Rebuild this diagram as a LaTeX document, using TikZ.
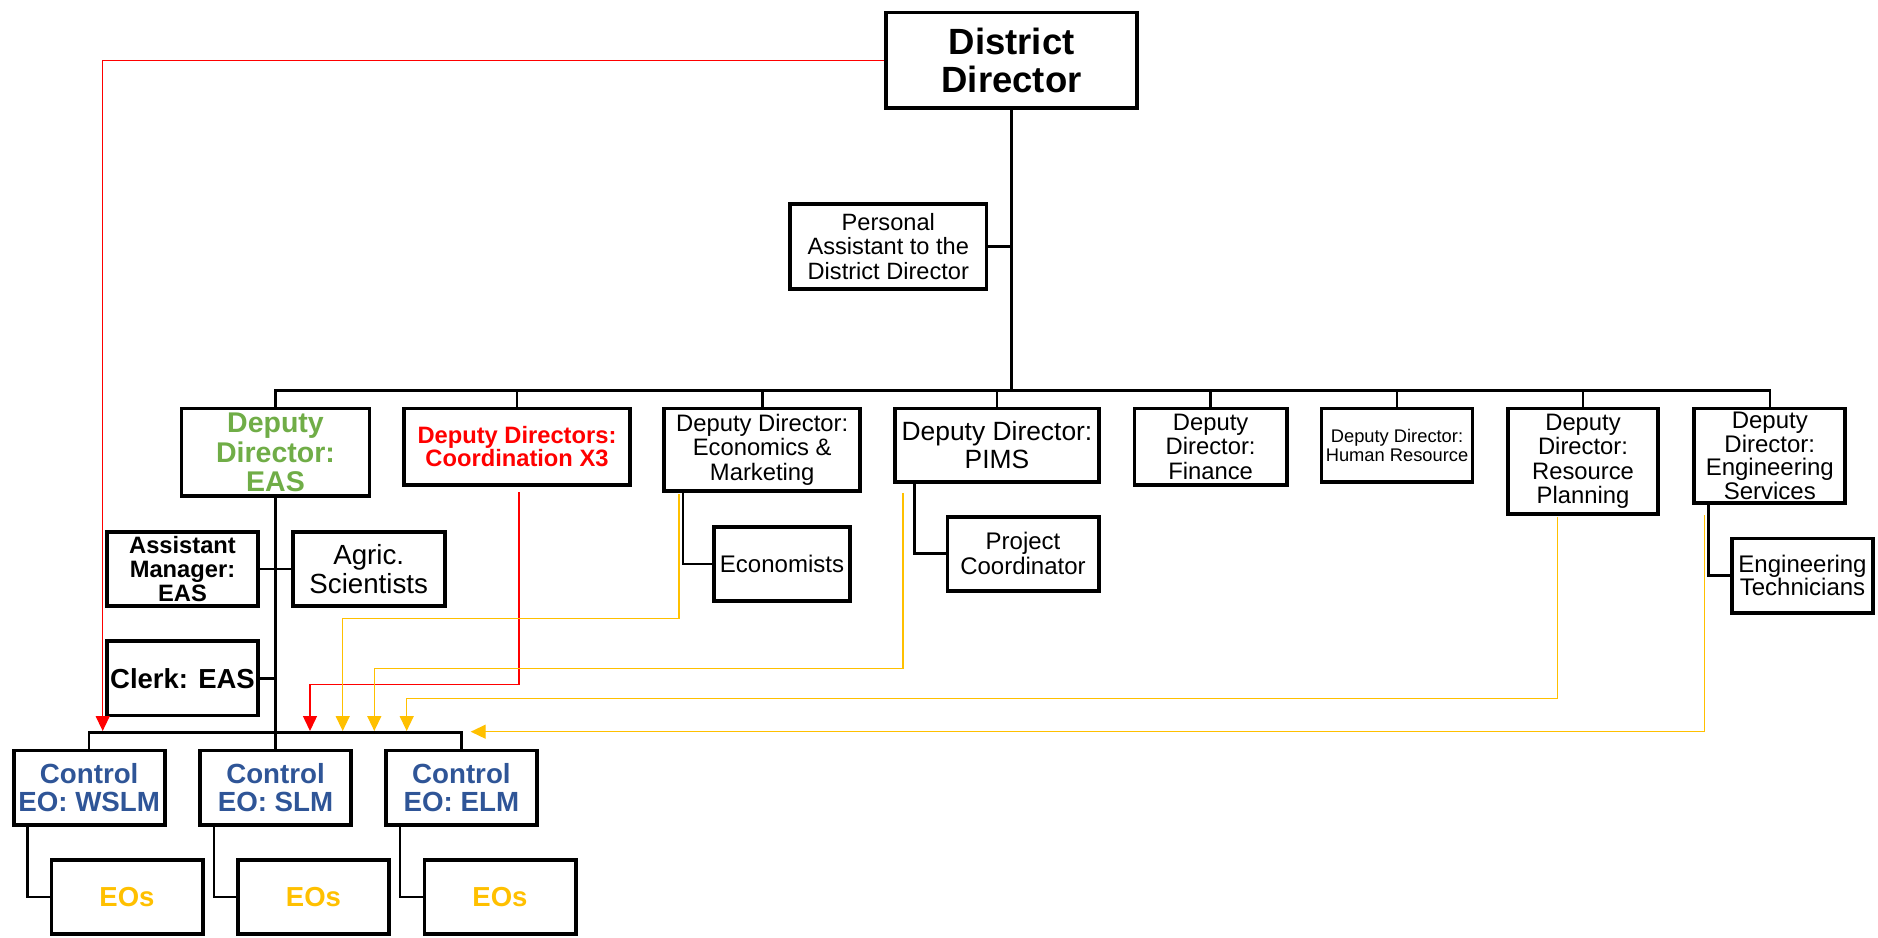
\documentclass[tikz,border=0pt]{standalone}
\usepackage{fontspec}
\setmainfont{Liberation Sans}
\usetikzlibrary{arrows.meta}
\definecolor{easgreen}{HTML}{70AD47}
\definecolor{eoblue}{HTML}{2F5597}
\definecolor{eoyellow}{HTML}{FFC000}
\newcommand{\fs}[2]{\fontsize{#1}{#2}\selectfont}

\begin{document}
\begin{tikzpicture}[
  x=1pt, y=-1pt,
  every node/.style={draw, line width=3.8pt, align=center, inner sep=0pt},
  dep/.style={anchor=north, font=\fs{23.8}{24.5}},
  sub/.style={minimum width=151.2pt, minimum height=74.2pt, font=\fs{24}{25}},
  ctrl/.style={sub, text=eoblue, font=\bfseries\fs{27.7}{28.8}},
  eos/.style={sub, text=eoyellow, font=\bfseries\fs{27.5}{29}},
  link/.style={line width=2.6pt},
  redarr/.style={draw=red, line width=1.4pt, -{Triangle[width=14pt,length=15pt]}},
  yelarr/.style={draw=eoyellow, line width=1.4pt, -{Triangle[width=14pt,length=15pt]}}
]
  \useasboundingbox (0,0) rectangle (1878,937);

  \node[minimum width=250.9pt, minimum height=95.5pt, font=\bfseries\fs{36.5}{38}] (dd) at (1011.6,60.3) {District\\Director};
  \node[minimum width=196.2pt, minimum height=84.6pt, font=\fs{23.6}{24.7}] (pa) at (888.3,246.5) {Personal\\Assistant to the\\District Director};

  \node[dep, minimum width=187.9pt, minimum height=87.8pt, text=easgreen, font=\bfseries\fs{28.5}{29.7}] (eas) at (275.5,406.6) {Deputy\\Director:\\EAS};
  \node[dep, minimum width=226pt, minimum height=76.2pt, text=red, font=\bfseries\fs{23.7}{23.5}] (coord) at (517,406.6) {Deputy Directors:\\Coordination X3};
  \node[dep, minimum width=195.8pt, minimum height=82.6pt] (econ) at (762.2,406.6) {Deputy Director:\\Economics \&\\Marketing};
  \node[dep, minimum width=204.2pt, minimum height=73.2pt, font=\fs{26.4}{27.7}] (pims) at (997,406.6) {Deputy Director:\\PIMS};
  \node[dep, minimum width=152.1pt, minimum height=76.2pt] (fin) at (1210.6,406.6) {Deputy\\Director:\\Finance};
  \node[dep, minimum width=150.9pt, minimum height=73.6pt, font=\fs{18.3}{19.5}] (hr) at (1397,406.6) {Deputy Director:\\Human Resource};
  \node[dep, minimum width=150.6pt, minimum height=105.2pt] (rp) at (1583,406.6) {Deputy\\Director:\\Resource\\Planning};
  \node[dep, minimum width=151pt, minimum height=94.6pt, font=\fs{24}{23.5}] (es) at (1769.8,406.6) {Deputy\\Director:\\Engineering\\Services};

  \node[sub, font=\bfseries\fs{23.7}{24}] (asst) at (182.5,569) {Assistant\\Manager:\\EAS};
  \node[sub, minimum width=152.2pt, font=\fs{27.7}{29}] (agric) at (368.7,569) {Agric.\\Scientists};
  \node[sub, font=\bfseries\fs{27.5}{29}] (clerk) at (182.5,678.3) {Clerk: EAS};
  \node[sub, minimum width=136.2pt] (econs) at (782,563.9) {Economists};
  \node[sub] (proj) at (1023,553.7) {Project\\Coordinator};
  \node[sub, minimum width=141.2pt, font=\fs{24}{23.5}] (tech) at (1802.5,575.5) {Engineering\\Technicians};

  \node[ctrl] (wslm) at (89.2,787.5) {Control\\EO: WSLM};
  \node[ctrl] (slm) at (275.5,787.5) {Control\\EO: SLM};
  \node[ctrl] (elm) at (461.4,787.5) {Control\\EO: ELM};
  \node[eos] (eos1) at (127,896.8) {EOs};
  \node[eos] (eos2) at (313.5,896.8) {EOs};
  \node[eos] (eos3) at (500,896.8) {EOs};

  \coordinate (bus) at (0,390.7);
  \coordinate (lbus) at (0,732.5);
  \draw[link] (dd.south) -- (dd.south |- bus);
  \draw[link] (eas.north) -- (eas.north |- bus) -- (es.north |- bus) -- (es.north);
  \foreach \n in {coord,econ,pims,fin,hr,rp}
    \draw[link] (\n.north) -- (\n.north |- bus);
  \draw[link] (pa.east) -- (pa.east -| dd.south);
  \draw[link] (eas.south) -- (slm.north);
  \draw[link] (asst.east) -- (agric.west);
  \draw[link] (clerk.east) -- (clerk.east -| eas.south);
  \draw[link, line width=2.4pt] (wslm.north) -- (wslm.north |- lbus) -- (elm.north |- lbus) -- (elm.north);
  \foreach \c/\e in {wslm/eos1,slm/eos2,elm/eos3}
    \draw[link] ([xshift=16pt]\c.south west) |- (\e.west);
  \draw[link] ([xshift=20.5pt]econ.south west) |- (econs.west);
  \draw[link] ([xshift=21.5pt]pims.south west) |- (proj.west);
  \draw[link] ([xshift=16pt]es.south west) |- (tech.west);

  \coordinate (t0) at (102.7,731);
  \coordinate (t1) at (310,731);
  \coordinate (t2) at (342.7,731);
  \coordinate (t3) at (374.3,731);
  \coordinate (t4) at (406.7,731);
  \coordinate (t5) at (470.7,731.7);
  \draw[redarr] (dd.west) -| (t0);
  \draw[redarr] ([xshift=2pt,yshift=-5.7pt]coord.south) |- ([yshift=46.7pt]t1) -- (t1);
  \draw[yelarr] ([xshift=16.4pt,yshift=-1pt]econ.south west) |- ([yshift=112.7pt]t2) -- (t2);
  \draw[yelarr] ([xshift=10pt,yshift=-9.3pt]pims.south west) |- ([yshift=62.7pt]t3) -- (t3);
  \draw[yelarr] ([xshift=51.7pt,yshift=-1pt]rp.south west) |- ([yshift=32.7pt]t4) -- (t4);
  \draw[yelarr] ([xshift=12pt,yshift=-10pt]es.south west) |- (t5);
\end{tikzpicture}
\end{document}
